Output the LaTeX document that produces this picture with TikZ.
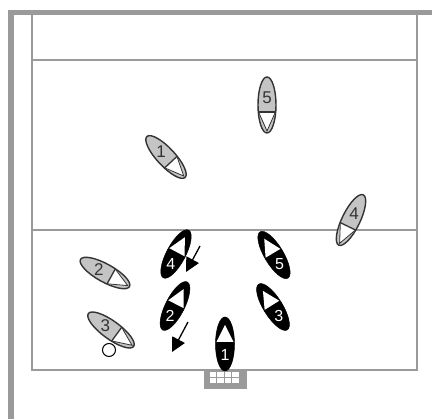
\documentclass[tikz,border=0pt]{standalone}
\usepackage{fontspec}
\setmainfont{Liberation Sans}
\definecolor{frameg}{HTML}{9A9A9A}
\definecolor{hullg}{HTML}{C4C4C4}
\definecolor{inkd}{HTML}{333333}
\usetikzlibrary{arrows.meta}
\tikzset{
  courtline/.style={draw=frameg,line width=2pt},
  framebar/.style={fill=frameg,draw=none},
  greyhull/.style={fill=hullg,draw=inkd,line width=1.4pt},
  blackhull/.style={fill=black,draw=black,line width=.5pt},
  greynum/.style={font=\fontsize{17}{17}\selectfont,text=inkd,inner sep=0pt},
  blacknum/.style={font=\fontsize{16}{16}\selectfont,text=white,inner sep=0pt},
  movearrow/.style={draw=black,line width=1.3pt,-{Triangle[length=14pt,width=14pt]}},
}
\newcommand{\greyboat}[5]{%
  \begin{scope}[shift={(#2,#3)},rotate=-#4]
    \draw[greyhull] (0,0) ellipse (9 and 28);
    \fill[white] (-8.2,-8) -- (8.2,-8) -- (0,-26) -- cycle;
    \draw[inkd,line width=1.2pt] (-8.8,-7) -- (8.8,-7);
    \draw[inkd,line width=.8pt] (8.2,-7.5) -- (0,-26) -- (-8.2,-7.5);
  \end{scope}
  \path (#2,#3) ++({-sin(#4)*7},{cos(#4)*7}) node[greynum] (#1) {#5};
}
\newcommand{\blackboat}[5]{%
  \begin{scope}[shift={(#2,#3)},rotate=-#4]
    \draw[blackhull] (0,0) ellipse (9.5 and 27);
    \fill[white] (-8.6,-2) -- (8.6,-2) -- (0,-19) -- cycle;
  \end{scope}
  \path (#2,#3) ++({-sin(#4)*11},{cos(#4)*11}) node[blacknum] (#1) {#5};
}
\begin{document}
\begin{tikzpicture}[x=1pt,y=-1pt]
\useasboundingbox (0,0) rectangle (432,419);
\fill[white] (0,0) rectangle (432,419);
\fill[framebar] (8,10) rectangle (14,419);
\fill[framebar] (8,10) rectangle (432,15);
\draw[courtline] (32,15) -- (32,370) -- (417,370) -- (417,15);
\draw[courtline] (32,60) -- (417,60);
\draw[courtline] (32,230) -- (417,230);
\fill[frameg] (204,370) rectangle (247,389);
\foreach \i in {0,1,2,3}{
  \fill[white] ({210+\i*7.4},372) rectangle ({216.4+\i*7.4},376.6);
  \fill[white] ({210+\i*7.4},377.6) rectangle ({216.4+\i*7.4},383);
}
\greyboat{g5}{267}{105}{180}{5}
\greyboat{g1}{166}{157}{137}{1}
\greyboat{g4}{351}{220}{206}{4}
\greyboat{g2}{105}{273}{119}{2}
\greyboat{g3}{111}{330}{126}{3}
\blackboat{b4}{176}{254}{28}{4}
\blackboat{b2}{175}{306}{27}{2}
\blackboat{b5}{274}{255}{-31}{5}
\blackboat{b3}{273}{307}{-32}{3}
\blackboat{b1}{225}{344}{0}{1}
\coordinate (a4s) at (200,246);
\coordinate (a4e) at (186,272);
\coordinate (a2s) at (188,322);
\coordinate (a2e) at (172,352);
\draw[movearrow] (a4s) -- (a4e);
\draw[movearrow] (a2s) -- (a2e);
\node[draw=black,line width=1pt,circle,minimum size=13pt,inner sep=0pt,fill=white] (ball) at (109,350) {};
\end{tikzpicture}
\end{document}
